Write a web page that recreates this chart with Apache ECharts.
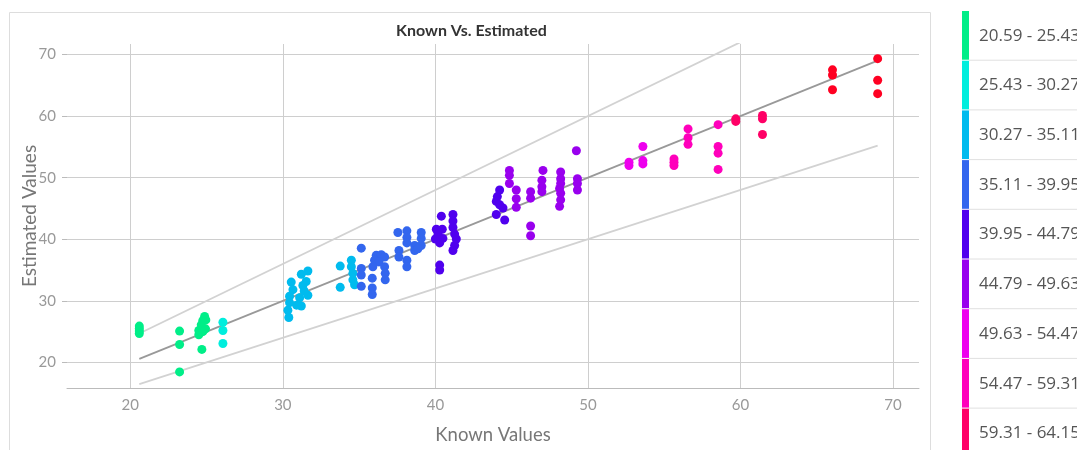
<!DOCTYPE html>
<html>
<head>
<meta charset="utf-8">
<style>
  html, body { margin: 0; padding: 0; background: #fff; }
  #chart { width: 1077px; height: 450px; }
</style>
<script src="https://cdn.jsdelivr.net/npm/echarts@6/dist/echarts.min.js"></script>
</head>
<body>
<div id="chart"></div>
<script>
// bin edges of the known value (colour legend)
var binEdges = [20.59, 25.43, 30.27, 35.11, 39.95, 44.79, 49.63, 54.47, 59.31, 64.15, 68.99]
var binColors = ['#00ee88', '#00eedd', '#00bbee', '#3366ee', '#5000ee', '#9900ee', '#ee00ee', '#ff00bb', '#ff0066', '#ff0022']

var axisTicks = [20, 30, 40, 50, 60, 70]

// reference lines: estimated = factor * known
var lineFactors = [1, 1.2, 0.8]

var knownValues = [
  20.59, 20.59, 20.59, 20.59,
  23.23, 23.23, 23.23,
  24.87, 24.75, 24.65, 24.93, 24.49, 24.49, 24.69, 24.95, 24.75,
  26.07, 26.07, 26.07,
  31.64, 31.21, 31.53, 30.55, 31.31, 30.66, 31.64, 30.44, 31.10, 30.44, 31.21, 30.33, 30.39, 30.90, 31.40,
  33.76, 33.76, 34.49, 34.49, 34.59, 34.59, 34.70,
  35.14, 35.14, 35.14, 35.14, 35.86, 35.86, 35.86,
  36.12, 36.45, 36.67, 36.01, 36.30, 35.90, 36.67, 36.71, 36.71,
  37.54, 38.13, 38.13, 38.13, 37.61, 37.61, 38.13, 38.13, 38.64, 38.64, 39.07, 39.07, 39.07, 38.85,
  40.39, 40.06, 40.45, 40.17, 40.00, 40.49, 40.28, 40.28, 40.28,
  41.15, 41.15, 41.15, 41.26, 41.37, 41.26, 41.15,
  44.21, 44.06, 43.99, 44.21, 44.43, 43.99, 44.54,
  44.85, 44.85, 44.85, 45.30, 45.30, 45.30, 46.24, 46.24, 46.24, 46.24,
  47.05, 46.98, 46.98, 46.98,
  48.21, 48.21, 48.21, 48.14, 48.21, 48.21, 48.14,
  49.24, 49.31, 49.31, 49.31,
  52.69, 52.69, 53.60, 53.60, 53.60,
  55.64, 55.64, 55.64, 56.56, 56.56, 56.56, 58.53, 58.53, 58.53, 58.53,
  59.69, 59.69, 61.44, 61.44, 61.44,
  66.03, 66.03, 66.03, 68.99, 68.99, 68.99
]
var estimatedValues = [
  25.90, 25.50, 25.10, 24.70,
  25.09, 22.91, 18.46,
  27.47, 26.78, 26.10, 25.45, 25.19, 24.50, 22.12, 26.90, 25.00,
  26.52, 25.19, 23.07,
  34.84, 34.32, 33.14, 33.04, 32.50, 31.82, 30.91, 30.75, 30.50, 29.71, 29.16, 28.48, 27.30, 29.30, 31.60,
  35.64, 32.19, 36.59, 35.53, 34.47, 33.41, 32.62,
  38.55, 35.27, 34.20, 32.35, 33.68, 32.09, 31.03,
  37.39, 37.50, 37.12, 36.59, 36.32, 35.53, 35.53, 34.47, 33.41,
  41.10, 41.37, 40.30, 39.41, 38.18, 37.12, 36.59, 35.53, 38.98, 38.18, 41.10, 40.14, 38.98, 38.45,
  43.75, 41.63, 41.63, 40.84, 40.04, 40.14, 39.41, 35.80, 35.00,
  44.02, 42.96, 41.90, 40.84, 40.04, 38.98, 38.18,
  48.00, 46.93, 46.14, 45.60, 45.07, 44.02, 43.12,
  51.18, 50.38, 49.05, 48.00, 46.57, 45.18, 47.73, 46.67, 42.16, 40.57,
  51.18, 49.59, 48.52, 47.73,
  50.91, 49.84, 49.05, 48.25, 47.46, 46.40, 45.34,
  54.36, 49.84, 49.05, 48.00,
  52.50, 51.97, 55.05, 52.77, 52.23,
  53.03, 52.50, 51.97, 57.91, 56.48, 55.41, 58.60, 55.05, 53.98, 51.34,
  59.55, 59.13, 60.09, 59.55, 57.00,
  67.50, 66.66, 64.27, 69.32, 65.82, 63.64
]

var chart = echarts.init(document.getElementById('chart'))

var points = knownValues.map(function(k, i) { return [k, estimatedValues[i]] })
var knownMin = binEdges[0]
var knownMax = binEdges[binEdges.length - 1]
var pieces = binColors.map(function(c, i) {
  var p = { gte: binEdges[i], color: c }
  if (i === binColors.length - 1) p.lte = binEdges[i + 1]
  else p.lt = binEdges[i + 1]
  return p
})

var lineStyles = [
  { color: '#999', width: 1.8 },
  { color: '#d2d2d2', width: 1.8 },
  { color: '#d2d2d2', width: 1.8 }
]
var lineSeries = lineFactors.map(function(f, i) {
  return {
    type: 'line',
    data: [[knownMin, knownMin * f], [knownMax, knownMax * f]],
    symbol: 'none',
    silent: true,
    clip: true,
    lineStyle: lineStyles[i],
    z: 1
  }
})

// legend on the right, one block per bin
var legendTop = 11
var legendStep = 49.7
var legendGraphics = []
binColors.forEach(function(c, i) {
  var y = legendTop + i * legendStep
  legendGraphics.push({
    type: 'rect',
    shape: { x: 962, y: y, width: 7, height: legendStep - 1 },
    style: { fill: c },
    silent: true
  })
  legendGraphics.push({
    type: 'text',
    x: 979,
    y: y + legendStep / 2,
    style: {
      text: binEdges[i].toFixed(2) + ' - ' + binEdges[i + 1].toFixed(2),
      fill: '#555',
      font: '17px "Open Sans"',
      verticalAlign: 'middle'
    },
    silent: true
  })
  legendGraphics.push({
    type: 'line',
    shape: { x1: 969, y1: y + legendStep - 0.5, x2: 1077, y2: y + legendStep - 0.5 },
    style: { stroke: '#e0e0e0', lineWidth: 1 },
    silent: true
  })
})

var axisLabelStyle = { color: '#999', fontSize: 15, fontFamily: 'Lato' }

chart.setOption({
  animation: false,
  textStyle: { fontFamily: 'Lato' },
  title: {
    text: 'Known Vs. Estimated',
    left: 391,
    top: 18,
    textStyle: { fontSize: 16, fontWeight: 'bold', color: '#333', fontFamily: 'Lato' }
  },
  grid: { left: 67, right: 158, top: 44, bottom: 55 },
  xAxis: {
    type: 'value',
    min: 15.85,
    max: 71.7,
    name: 'Known Values',
    nameLocation: 'middle',
    nameGap: 38,
    nameTextStyle: { color: '#777', fontSize: 18.5, fontFamily: 'Lato' },
    axisLine: { show: true, lineStyle: { color: '#bbb' } },
    axisTick: { show: false, customValues: axisTicks },
    axisLabel: Object.assign({ customValues: axisTicks, margin: 10 }, axisLabelStyle),
    splitLine: { show: true, lineStyle: { color: '#cecece' } }
  },
  yAxis: {
    type: 'value',
    min: 15.85,
    max: 71.7,
    name: 'Estimated Values',
    nameLocation: 'middle',
    nameGap: 27.5,
    nameMoveOverlap: false,
    nameTextStyle: { color: '#777', fontSize: 19, fontFamily: 'Lato' },
    axisLine: { show: false },
    axisTick: { show: true, length: 5, customValues: axisTicks, lineStyle: { color: '#bbb' } },
    axisLabel: Object.assign({ customValues: axisTicks, margin: 11 }, axisLabelStyle),
    splitLine: { show: true, lineStyle: { color: '#cecece' } }
  },
  visualMap: {
    type: 'piecewise',
    show: false,
    dimension: 0,
    seriesIndex: 0,
    pieces: pieces
  },
  graphic: [{
    type: 'rect',
    shape: { x: 9.5, y: 12.5, width: 921, height: 460 },
    style: { fill: 'none', stroke: '#dddddd', lineWidth: 1 },
    silent: true,
    z: -1
  }].concat(legendGraphics),
  series: [{
    type: 'scatter',
    data: points,
    symbolSize: 9,
    itemStyle: { opacity: 1 },
    z: 3
  }].concat(lineSeries)
})
</script>
</body>
</html>
